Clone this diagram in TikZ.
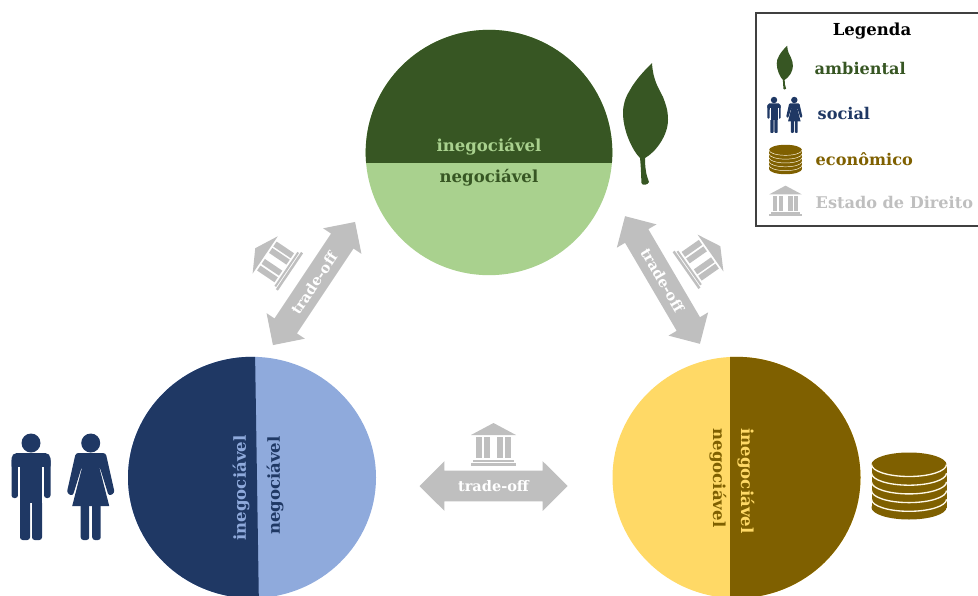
\documentclass[tikz,border=0pt]{standalone}
\usepackage{fontspec}
\setmainfont{DejaVu Serif}
\usetikzlibrary{shapes.arrows,shapes.geometric}
\definecolor{verdeE}{HTML}{375623}
\definecolor{verdeC}{HTML}{A9D18E}
\definecolor{azulE}{HTML}{1F3864}
\definecolor{azulC}{HTML}{8FAADC}
\definecolor{ouroE}{HTML}{7F6000}
\definecolor{ouroC}{HTML}{FFD966}
\definecolor{cinza}{HTML}{BFBFBF}
\tikzstyle{every node}=[font=\bfseries\fontsize{12.4}{14}\selectfont]
\tikzset{
  rc/.store in=\rcvalue,
  rc=2pt,
  disco/.style={ellipse,minimum width=185pt,minimum height=184pt,inner sep=0pt},
  discobaixo/.style={disco,minimum width=186pt,minimum height=181pt},
  legtxt/.style={anchor=west,font=\bfseries\fontsize{12.1}{14}\selectfont},
  tradeoff/.style={double arrow,fill=cinza,text=white,inner xsep=0pt,inner ysep=5.7pt,
    minimum height=111pt,minimum width=34pt,
    double arrow tip angle=90,font=\bfseries\fontsize{10.9}{12}\selectfont},
  folha/.pic={
    \fill[verdeE] (6,-62) .. controls (0,-56) and (-10,-46) .. (-16,-35)
      .. controls (-21,-27) and (-23,-20) .. (-23,-12)
      .. controls (-23,5) and (-14,25) .. (-6,33) .. controls (-5,42) and (-5,50) .. (-4.5,58)
      .. controls (-4,61) and (2,60) .. (3,57) .. controls (0,50) and (-1,42) .. (-1,33)
      .. controls (10,27) and (22,10) .. (22,-5)
      .. controls (22,-15) and (20,-20) .. (17,-28)
      .. controls (12,-38) and (7,-45) .. (6,-62) -- cycle;
  },
  pessoas/.pic={
    \begin{scope}[azulE,rounded corners=\rcvalue]
      \fill (0,0) circle (9.5);
      \fill[rounded corners=2*\rcvalue] (-19.5,10) rectangle (19.5,28);
      \fill (-19.5,15) rectangle (-13,55);
      \fill (13,15) rectangle (19.5,55);
      \fill[sharp corners] (-11,20) rectangle (11,60);
      \fill (-11,40) rectangle (-1,97);
      \fill (1,40) rectangle (11,97);
      \fill[white,sharp corners] (-13,24) rectangle (-11,60);
      \fill[white,sharp corners] (11,24) rectangle (13,60);
    \end{scope}
    \begin{scope}[xshift=44.8pt,azulE,rounded corners=\rcvalue]
      \fill (0,0) circle (9.5);
      \fill (-15,10) -- (15,10) -- (24,50) -- (18,53) -- (9,24) -- (-9,24)
        -- (-18,53) -- (-24,50) -- cycle;
      \fill[sharp corners] (-7.5,20) -- (7.5,20) -- (18.5,63) -- (-18.5,63) -- cycle;
      \fill (-10,58) rectangle (-1.5,97);
      \fill (1.5,58) rectangle (10,97);
    \end{scope}
  },
  moedas/.pic={
    \fill[ouroE] (-37.5,-21.5) rectangle (37.5,21.5);
    \fill[ouroE] (0,-21.5) ellipse [x radius=37.5,y radius=12];
    \fill[ouroE] (0,21.5) ellipse [x radius=37.5,y radius=12];
    \foreach \k in {0,1,2,3,4}
      \draw[white!85!ouroC,line width=0.5*\rcvalue] (-37.5,-21.5+8.7*\k)
        arc [start angle=180,end angle=0,x radius=37.5,y radius=12];
  },
  templo/.pic={
    \begin{scope}[cinza]
      \fill (-22.5,-10) -- (0,-22) -- (22.5,-10) -- cycle;
      \foreach \a in {-17.5,-9.5,3.8,11.5}
        \fill (\a,-8) rectangle ++(6,21);
      \fill (-20.5,15) rectangle (20.5,17);
      \fill (-22.5,18) rectangle (22.5,20.5);
    \end{scope}
  },
}

\begin{document}
\begin{tikzpicture}[x=.75pt,y=-.75pt]
    \useasboundingbox (0,0) rectangle (978,596);
    \clip (0,0) rectangle (978,596);

    \node[disco,fill=verdeC] (ambiente) at (489,152.5) {};
    \begin{scope}
      \clip (489,152.5) ellipse [x radius=123.33,y radius=122.67];
      \fill[verdeE] (360,20) rectangle (620,162.5);
    \end{scope}
    \node[text=verdeC] (inegA) at (489,147) {inegociável};
    \node[text=verdeE] (negA) at (489,178) {negociável};

    \node[discobaixo,fill=azulC] (sociedade) at (252,477.5) {};
    \begin{scope}
      \clip (252,477.5) ellipse [x radius=124,y radius=120.67];
      \fill[azulE] (255,350) -- (259,610) -- (120,610) -- (120,350) -- cycle;
    \end{scope}
    \node[text=azulC,rotate=90] (inegS) at (241,488) {inegociável};
    \node[text=azulE,rotate=90] (negS) at (275,485.5) {negociável};

    \node[discobaixo,fill=ouroC] (economia) at (736.5,477.5) {};
    \begin{scope}
      \clip (736.5,477.5) ellipse [x radius=124,y radius=120.67];
      \fill[ouroE] (730,350) rectangle (870,610);
    \end{scope}
    \node[text=ouroC,rotate=-90] (inegE) at (746,481) {inegociável};
    \node[text=ouroE,rotate=-90] (negE) at (718,478) {negociável};

    \node[tradeoff,minimum width=36.7pt,inner ysep=7.2pt] (arrowSE) at (493.5,486) {trade-off};
    \node[tradeoff,rotate=56.3] (arrowAS) at (314,283.5) {trade-off};
    \node[tradeoff,rotate=-59.6] (arrowAE) at (662.5,280) {trade-off};

    \pic at (493.5,445) {templo};
    \pic[rotate=56] at (273.5,260.5) {templo};
    \pic[rotate=-55] at (702.3,258.8) {templo};

    \pic at (646,125) {folha};
    \pic at (31,443) {pessoas};
    \pic at (909,486) {moedas};

    \draw[line width=1.2pt,draw=black!75] (756,13) rectangle (990,226);
    \node[text=black] (legenda) at (872,31) {Legenda};
    \pic[scale=.36] at (785,68) {folha};
    \node[legtxt,text=verdeE] (legA) at (810,68) {ambiental};
    \pic[scale=.34,rc=.7pt] at (774,100) {pessoas};
    \node[legtxt,text=azulE] (legS) at (813,113) {social};
    \pic[scale=.44,rc=.7pt] at (785.5,159.5) {moedas};
    \node[legtxt,text=ouroE] (legE) at (811,159) {econômico};
    \pic[scale=.72] at (785.5,201.5) {templo};
    \node[legtxt,text=cinza] (legD) at (811,202) {Estado de Direito};
\end{tikzpicture}
\end{document}
